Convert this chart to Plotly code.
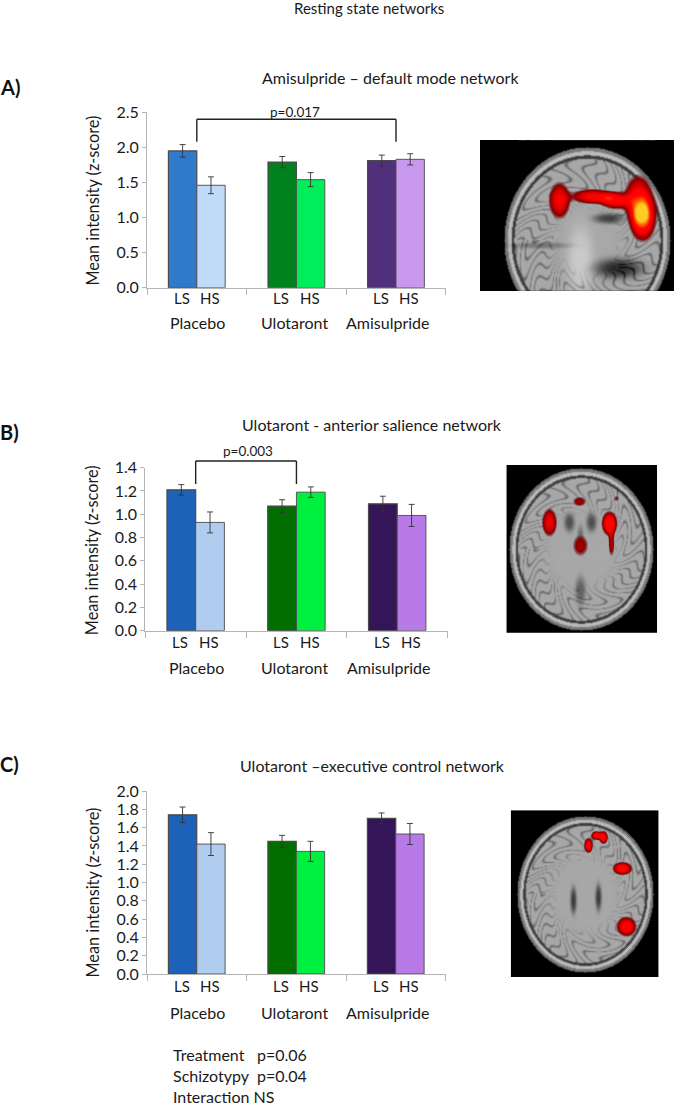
import numpy as np
import plotly.graph_objects as go

W = 674
H = 1107
FONT = "Lato"
TEXT = "#1a1a1a"

groups = ["Placebo", "Ulotaront", "Amisulpride"]
arms = ["LS", "HS"]

a_ls = [1.95, 1.79, 1.81]
a_hs = [1.46, 1.54, 1.83]
a_ls_err = [0.09, 0.08, 0.08]
a_hs_err = [0.12, 0.10, 0.08]
a_ticks = [0.0, 0.5, 1.0, 1.5, 2.0, 2.5]

b_ls = [1.21, 1.07, 1.09]
b_hs = [0.93, 1.19, 0.99]
b_ls_err = [0.045, 0.055, 0.065]
b_hs_err = [0.09, 0.045, 0.095]
b_ticks = [0.0, 0.2, 0.4, 0.6, 0.8, 1.0, 1.2, 1.4]

c_ls = [1.74, 1.45, 1.70]
c_hs = [1.42, 1.34, 1.53]
c_ls_err = [0.085, 0.065, 0.06]
c_hs_err = [0.125, 0.11, 0.115]
c_ticks = [0.0, 0.2, 0.4, 0.6, 0.8, 1.0, 1.2, 1.4, 1.6, 1.8, 2.0]

a_colors_ls = ["#2f7bc9", "#00821f", "#50307a"]
a_colors_hs = ["#c0dafa", "#00ee5a", "#c898ee"]
bc_colors_ls = ["#1b62b8", "#006f00", "#341558"]
bc_colors_hs = ["#b0cdf0", "#00f040", "#b77ae6"]

BAR_GAP = 0.43
OFFSET = (1 - BAR_GAP) / 4


def px(x, y):
    return x / W, 1 - y / H


def text(fig, s, x, y, size=16, **kw):
    xp, yp = px(x, y)
    kw.setdefault("xanchor", "center")
    fig.add_annotation(text=s, x=xp, y=yp, xref="paper", yref="paper", showarrow=False,
                       yanchor="middle", font=dict(family=FONT, size=size, color=TEXT), **kw)


def blob(xx, yy, cx, cy, rx, ry):
    return np.exp(-(((xx - cx) / rx) ** 2 + ((yy - cy) / ry) ** 2) ** 1.5)


def soften(img, passes=1):
    for _ in range(passes):
        img = (img + np.roll(img, 1, 0) + np.roll(img, -1, 0) + np.roll(img, 1, 1) + np.roll(img, -1, 1)) / 5
    return img


def hot(gray, act):
    # dark red to yellow overlay on top of the gray anatomy
    t = np.clip(soften(act), 0, 1)
    alpha = np.clip((t - 0.12) / 0.15, 0, 1)
    r = np.clip(30 + 400 * t, 0, 255)
    g = np.clip(640 * (t - 0.68), 0, 255)
    b = np.clip(500 * (t - 0.92), 0, 255)
    out = np.stack([gray, gray, gray], axis=2).astype(float)
    for i, chan in enumerate([r, g, b]):
        out[:, :, i] = out[:, :, i] * (1 - alpha) + chan * alpha
    return np.clip(out, 0, 255).astype(np.uint8)


def anatomy(w, h, cx, cy, a, b, inner=0.4):
    # bright skull ring, dark gap, then a light brain with irregular dark sulci
    yy, xx = np.mgrid[0:h, 0:w]
    rho = np.sqrt(((xx - cx) / a) ** 2 + ((yy - cy) / b) ** 2)
    theta = np.arctan2(yy - cy, xx - cx)
    wave = np.sin(theta * 15 + 3.2 * np.sin(theta * 3.7 + rho * 6) + 2.6 * np.sin(rho * 17 + theta * 7))
    sulci = np.exp(-(wave / 0.3) ** 2) * np.clip((rho - inner) / 0.25, 0, 1)
    gray = 168 - 70 * sulci
    gray = np.where(rho > 0.88, 62, gray)
    gray = np.where(rho > 0.915, 185, gray)
    gray = np.where(rho > 0.96, 120, gray)
    gray = np.where(rho > 1.0, 0, gray)
    return xx, yy, gray


def brain_a():
    xx, yy, gray = anatomy(194, 151, 107, 100, 83, 93, inner=0.3)
    gray = gray + 35 * blob(xx, yy, 100, 120, 13, 34)
    gray = gray - 120 * blob(xx, yy, 138, 128, 24, 10)
    gray = gray - 100 * blob(xx, yy, 128, 78, 15, 5)
    gray = gray - 50 * blob(xx, yy, 60, 105, 30, 3)
    act = 0.55 * blob(xx, yy, 79, 60, 10, 17)
    act = act + 0.55 * blob(xx, yy, 112, 56, 20, 7) + 0.55 * blob(xx, yy, 135, 60, 14, 8)
    act = act + 0.55 * blob(xx, yy, 158, 58, 13, 22) + 0.58 * blob(xx, yy, 162, 84, 11, 16)
    act = act + 0.5 * np.exp(-(((xx - 163) / 13) ** 2 + ((yy - 70) / 14) ** 2))
    return hot(np.clip(soften(gray), 0, 255), act)


def brain_b():
    xx, yy, gray = anatomy(151, 168, 75, 84, 72, 81)
    gray = gray - 90 * blob(xx, yy, 63, 57, 5, 9) - 90 * blob(xx, yy, 85, 57, 5, 9)
    gray = gray - 60 * blob(xx, yy, 74, 72, 3, 12) - 70 * blob(xx, yy, 74, 125, 5, 14)
    act = 0.52 * blob(xx, yy, 43, 57, 7, 13) + 0.68 * blob(xx, yy, 103, 58, 7, 11)
    act = act + 0.36 * blob(xx, yy, 105, 78, 3, 13)
    act = act + 0.32 * (blob(xx, yy, 73, 36, 7, 5) + blob(xx, yy, 74, 80, 8, 11))
    act = act + 0.26 * blob(xx, yy, 110, 33, 3, 3)
    return hot(np.clip(soften(gray), 0, 255), act)


def brain_c():
    xx, yy, gray = anatomy(148, 167, 74, 84, 68, 78)
    gray = gray - 110 * blob(xx, yy, 62, 90, 3, 13) - 110 * blob(xx, yy, 87, 87, 3, 13)
    act = 0.6 * (blob(xx, yy, 77, 35, 4, 7) + blob(xx, yy, 85, 25, 5, 4) + blob(xx, yy, 92, 27, 4, 6))
    act = act + 0.62 * (blob(xx, yy, 111, 58, 9, 6) + blob(xx, yy, 115, 116, 9, 9))
    return hot(np.clip(soften(gray), 0, 255), act)


# bars left/right, axis top/bottom and image box, all in page pixels
panels = [
    dict(ls=a_ls, hs=a_hs, ls_err=a_ls_err, hs_err=a_hs_err, ticks=a_ticks, ymax=2.5,
         cls=a_colors_ls, chs=a_colors_hs, box=(147, 445.8, 112.3, 287.7), label_y=(298, 322.3),
         letter="A)", letter_y=87, title="Amisulpride – default mode network", title_x=390.5, title_y=78,
         ytitle_y=201, bracket=(0, 2, 2.08, 2.4), p="p=0.017", p_x=295, p_y=111.7,
         img=brain_a(), img_box=(480, 674, 140, 291)),
    dict(ls=b_ls, hs=b_hs, ls_err=b_ls_err, hs_err=b_hs_err, ticks=b_ticks, ymax=1.4,
         cls=bc_colors_ls, chs=bc_colors_hs, box=(145.3, 447.6, 467.7, 630.7), label_y=(642, 667.3),
         letter="B)", letter_y=432, title="Ulotaront - anterior salience network", title_x=372, title_y=424,
         ytitle_y=550.7, bracket=(0, 1, 1.26, 1.457), p="p=0.003", p_x=248, p_y=451,
         img=brain_b(), img_box=(506, 657.4, 465, 632.7)),
    dict(ls=c_ls, hs=c_hs, ls_err=c_ls_err, hs_err=c_hs_err, ticks=c_ticks, ymax=2.0,
         cls=bc_colors_ls, chs=bc_colors_hs, box=(147, 445.5, 791, 974), label_y=(986, 1012.3),
         letter="C)", letter_y=764, title="Ulotaront –executive control network", title_x=373, title_y=765,
         ytitle_y=893, bracket=None, img=brain_c(), img_box=(510.7, 658.6, 810, 977.3)),
]

fig = go.Figure()
layout = {}

for i, p in enumerate(panels):
    n = i * 2 + 1
    xa, ya = f"x{n}", f"y{n}"
    left, right, top, bottom = p["box"]

    for name, vals, errs, cols, lw in [("LS", p["ls"], p["ls_err"], p["cls"], 1.2),
                                       ("HS", p["hs"], p["hs_err"], p["chs"], 0.9)]:
        fig.add_trace(go.Bar(
            x=groups, y=vals, name=name, xaxis=xa, yaxis=ya, showlegend=False,
            marker=dict(color=cols, line=dict(color="#4a4a4a", width=lw)),
            error_y=dict(type="data", array=errs, thickness=0.9, width=3, color="#333333"),
        ))

    layout[f"xaxis{n}"] = dict(
        domain=[left / W, right / W], anchor=ya, type="category", categoryorder="array",
        categoryarray=groups, range=[-0.5, 2.5], tickson="boundaries", ticks="outside",
        ticklen=6, tickcolor="#b5b5b5", showticklabels=False, showgrid=False, zeroline=False,
        showline=True, linecolor="#b5b5b5", linewidth=1, automargin=False,
    )
    layout[f"yaxis{n}"] = dict(
        domain=[1 - bottom / H, 1 - top / H], anchor=xa, range=[0, p["ymax"]],
        tickmode="array", tickvals=p["ticks"], ticktext=[f"{t:.1f}" for t in p["ticks"]],
        ticks="outside", ticklen=4, tickcolor="#b5b5b5", showgrid=False, zeroline=False,
        showline=True, linecolor="#b5b5b5", linewidth=1, automargin=False,
        tickfont=dict(family=FONT, size=16, color=TEXT),
    )

    # arm and treatment labels under the bars
    for j, g in enumerate(groups):
        for arm, side in zip(arms, [-1, 1]):
            fig.add_annotation(text=arm, x=j + side * OFFSET, xref=xa, y=1 - p["label_y"][0] / H, yref="paper",
                               xshift=-1, showarrow=False, yanchor="middle",
                               font=dict(family=FONT, size=15, color=TEXT))
        shift = [1, -1.5, -8.5][j]
        fig.add_annotation(text=g, x=j, xref=xa, y=1 - p["label_y"][1] / H, yref="paper", xshift=shift,
                           showarrow=False, yanchor="middle", font=dict(family=FONT, size=16, color=TEXT))

    xp, yp = px(0, p["letter_y"])
    fig.add_annotation(text=f"<b>{p['letter']}</b>", x=xp, y=yp, xref="paper", yref="paper", showarrow=False,
                       xanchor="left", yanchor="middle", xshift=-2, font=dict(family=FONT, size=20, color="#111111"))
    text(fig, p["title"], p["title_x"], p["title_y"])
    xp, yp = px(91.5, p["ytitle_y"])
    fig.add_annotation(text="Mean intensity (z-score)", x=xp, y=yp, xref="paper", yref="paper", showarrow=False,
                       textangle=-90, xanchor="center", yanchor="middle",
                       font=dict(family=FONT, size=16.3, color=TEXT))

    if p["bracket"]:
        g0, g1, low, high = p["bracket"]
        to_paper = lambda v: 1 - (bottom - (bottom - top) * v / p["ymax"]) / H
        line = dict(color="#222222", width=1.4)
        for x0, x1, y0, y1 in [(g0, g0, low, high), (g0, g1, high, high), (g1, g1, high, low)]:
            fig.add_shape(type="line", xref=xa, yref="paper", x0=x0, x1=x1,
                          y0=to_paper(y0), y1=to_paper(y1), line=line)
        text(fig, p["p"], p["p_x"], p["p_y"], size=13.5)

    # brain inset on its own axes
    n_img = n + 1
    il, ir, it, ib = p["img_box"]
    fig.add_trace(go.Image(z=p["img"], xaxis=f"x{n_img}", yaxis=f"y{n_img}", hoverinfo="skip"))
    layout[f"xaxis{n_img}"] = dict(domain=[il / W, min(ir / W, 1)], anchor=f"y{n_img}", visible=False, automargin=False)
    layout[f"yaxis{n_img}"] = dict(domain=[1 - ib / H, 1 - it / H], anchor=f"x{n_img}", visible=False, automargin=False)

text(fig, "Resting state networks", 369, 8, size=15)

for s, y in [("Treatment", 1054), ("Schizotypy", 1075), ("Interaction NS", 1096)]:
    text(fig, s, 171, y, size=16, xanchor="left")
for s, y in [("p=0.06", 1054), ("p=0.04", 1075)]:
    text(fig, s, 254.5, y, size=16, xanchor="left")

fig.update_layout(
    width=W, height=H, margin=dict(l=0, r=0, t=0, b=0), autosize=False,
    paper_bgcolor="white", plot_bgcolor="white", barmode="group", bargap=BAR_GAP, bargroupgap=0,
    font=dict(family=FONT, color=TEXT), **layout,
)

# the page's default body margin would push the figure off the window
fig.write_html("out.html", config=dict(displayModeBar=False),
               post_script="document.body.style.margin='0';document.documentElement.style.overflow='hidden';")
